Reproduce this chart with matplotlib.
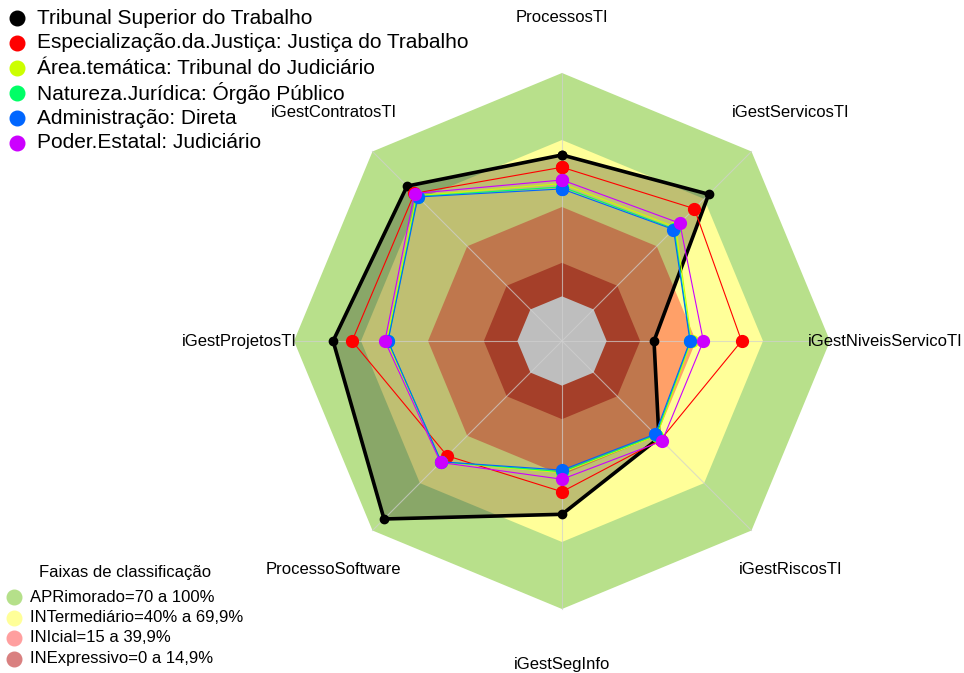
import numpy as np
import matplotlib
matplotlib.use('Agg')
import matplotlib.pyplot as plt

plt.rcParams['font.family'] = ['Liberation Sans', 'DejaVu Sans']

axis_labels = ['ProcessosTI', 'iGestServicosTI', 'iGestNiveisServicoTI', 'iGestRiscosTI',
               'iGestSegInfo', 'ProcessoSoftware', 'iGestProjetosTI', 'iGestContratosTI']

series_names = ['Tribunal Superior do Trabalho',
                'Especialização.da.Justiça: Justiça do Trabalho',
                'Área.temática: Tribunal do Judiciário',
                'Natureza.Jurídica: Órgão Público',
                'Administração: Direta',
                'Poder.Estatal: Judiciário']
series_colors = ['#000000', '#FF0000', '#CCFF00', '#00FF66', '#0066FF', '#CC00FF']

tst = [63.3, 72.9, 21.2, 41.4, 57.6, 92.7, 82.5, 78.1]
especializacao = [57.8, 63.8, 60.4, 42.5, 47.5, 52.7, 74.0, 73.5]
area_tematica = [50.5, 52.0, 38.0, 40.0, 39.0, 56.5, 58.5, 72.0]
natureza = [49.0, 51.0, 37.5, 39.5, 38.5, 56.5, 58.0, 71.5]
administracao = [48.1, 50.6, 37.3, 39.0, 37.8, 56.5, 57.9, 71.2]
poder = [52.1, 54.6, 43.3, 43.4, 41.9, 56.9, 59.3, 73.4]
series = [tst, especializacao, area_tematica, natureza, administracao, poder]

band_tops = [100, 70, 40, 15, 0]
band_colors = ['#B8E08B', '#FFFF99', '#FFA068', '#DD5537', '#BEBEBE']
band_names = ['APRimorado=70 a 100%', 'INTermediário=40% a 69,9%',
              'INIcial=15 a 39,9%', 'INExpressivo=0 a 14,9%']
band_legend_colors = ['#B5E08A', '#FFFF99', '#FF9F9F', '#D98080']

r_min, r_max = -20, 100
n = len(axis_labels)
angles = np.pi / 2 - 2 * np.pi * np.arange(n) / n


def to_xy(vals):
    r = np.asarray(vals, dtype=float) - r_min
    x = r * np.cos(angles)
    y = r * np.sin(angles)
    return np.append(x, x[0]), np.append(y, y[0])


W, H = 964, 673
cx, cy = 562, 341
scale = 268 / (r_max - r_min)

fig = plt.figure(figsize=(W / 100, H / 100), dpi=100)
ax = fig.add_axes([0, 0, 1, 1])
ax.set_xlim(-cx / scale, (W - cx) / scale)
ax.set_ylim(-(H - cy) / scale, cy / scale)
ax.axis('off')

# classification bands
for top, col in zip(band_tops[:-1], band_colors[:-1]):
    bx, by = to_xy([top] * n)
    ax.fill(bx, by, color=col, lw=0, zorder=1)

# TST fill darkens the bands
fx, fy = to_xy(tst)
ax.fill(fx, fy, color='black', alpha=0.25, lw=0, zorder=2)

# grey center (below 0)
gx, gy = to_xy([band_tops[-1]] * n)
ax.fill(gx, gy, color=band_colors[-1], lw=0, zorder=3)

# spokes
ox, oy = to_xy([r_max] * n)
for i in range(n):
    ax.plot([0, ox[i]], [0, oy[i]], color='#D0D0D0', lw=0.8, alpha=0.7, zorder=3)

# series
for k, (vals, col) in enumerate(zip(series, series_colors)):
    sx, sy = to_xy(vals)
    if k == 0:
        ax.plot(sx, sy, color=col, lw=2.6, marker='o', ms=6, zorder=4)
    else:
        ax.plot(sx, sy, color=col, lw=0.8, marker='o', ms=8.5, zorder=4 + k)

# axis labels
lab_r = 323 / scale
for lab, a in zip(axis_labels, angles):
    ax.text(lab_r * np.cos(a), lab_r * np.sin(a), lab, ha='center', va='center',
            fontsize=12, color='black')


def fx_(x):
    return x / W


def fy_(y):
    return 1 - y / H


# series legend
for i, (name, col) in enumerate(zip(series_names, series_colors)):
    y = 18 + 25 * i
    fig.lines.append(plt.Line2D([fx_(17)], [fy_(y)], marker='o', ms=10.5, color=col,
                                ls='none', transform=fig.transFigure))
    fig.text(fx_(37), fy_(y), name, ha='left', va='center', fontsize=15)

# band legend
fig.text(fx_(125), fy_(572), 'Faixas de classificação', ha='center', va='center', fontsize=12)
for i, (name, col) in enumerate(zip(band_names, band_legend_colors)):
    y = 597 + 20.5 * i
    fig.lines.append(plt.Line2D([fx_(14)], [fy_(y)], marker='o', ms=10.5, color=col,
                                ls='none', transform=fig.transFigure))
    fig.text(fx_(30), fy_(y), name, ha='left', va='center', fontsize=12)

fig.savefig('out.png', dpi=100)
